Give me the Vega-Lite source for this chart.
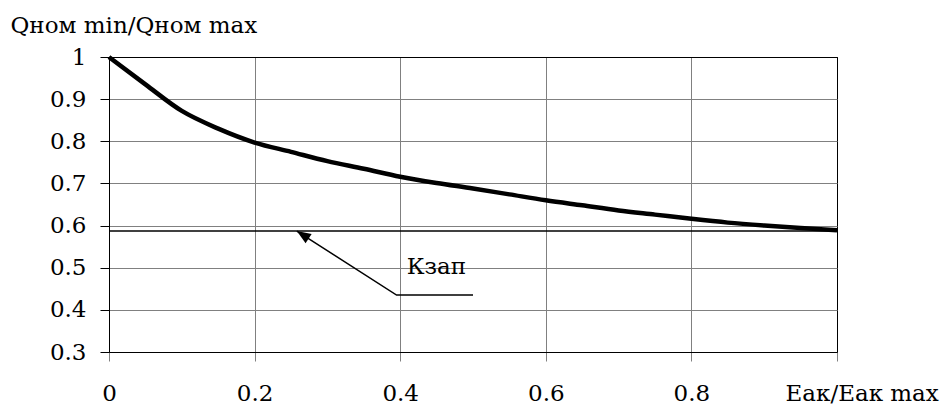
{
  "$schema": "https://vega.github.io/schema/vega-lite/v6.json",
  "width": 728,
  "height": 295,
  "autosize": {"type": "none"},
  "padding": {"left": 109, "top": 57, "right": 104, "bottom": 53},
  "background": "white",
  "config": {
    "view": {"stroke": "black", "strokeWidth": 1},
    "font": "DejaVu Serif"
  },
  "datasets": {
    "curve": [
      {"x": 0.0, "y": 1.0},
      {"x": 0.05, "y": 0.935},
      {"x": 0.1, "y": 0.872},
      {"x": 0.15, "y": 0.83},
      {"x": 0.2, "y": 0.797},
      {"x": 0.25, "y": 0.775},
      {"x": 0.3, "y": 0.753},
      {"x": 0.35, "y": 0.735},
      {"x": 0.4, "y": 0.716},
      {"x": 0.45, "y": 0.701},
      {"x": 0.5, "y": 0.688},
      {"x": 0.55, "y": 0.674},
      {"x": 0.6, "y": 0.660},
      {"x": 0.65, "y": 0.648},
      {"x": 0.7, "y": 0.636},
      {"x": 0.75, "y": 0.626},
      {"x": 0.8, "y": 0.616},
      {"x": 0.85, "y": 0.607},
      {"x": 0.9, "y": 0.600},
      {"x": 0.95, "y": 0.594},
      {"x": 1.0, "y": 0.589}
    ],
    "kzap": [
      {"x": 0.0, "y": 0.587},
      {"x": 1.0, "y": 0.587}
    ],
    "arrow": [
      {"x": 0.258, "y": 0.587},
      {"x": 0.395, "y": 0.435},
      {"x": 0.5, "y": 0.435}
    ],
    "head": [
      {"x": 0.258, "y": 0.587}
    ],
    "label": [
      {"x": 0.409, "y": 0.485, "text": "Кзап"}
    ]
  },
  "encoding": {
    "x": {
      "field": "x",
      "type": "quantitative",
      "scale": {"domain": [0, 1], "nice": false, "zero": false},
      "axis": {
        "values": [0, 0.2, 0.4, 0.6, 0.8, 1],
        "grid": true,
        "gridColor": {"condition": {"test": "datum.value == 1", "value": "black"}, "value": "#808080"},
        "gridOpacity": 1,
        "gridWidth": 1,
        "domainColor": "black",
        "domainWidth": 1,
        "tickSize": 9,
        "tickColor": "#808080",
        "tickWidth": 1,
        "labelFont": "DejaVu Serif",
        "labelFontSize": 23,
        "labelColor": "black",
        "labelBaseline": "alphabetic",
        "labelPadding": 39,
        "labelFlush": false,
        "labelOverlap": false,
        "labelExpr": "datum.value == 1 ? '' : format(datum.value, '~g')",
        "title": "Еак/Еак max",
        "titleFont": "DejaVu Serif",
        "titleFontSize": 23,
        "titleFontWeight": "normal",
        "titleColor": "black",
        "titleAlign": "left",
        "titleAnchor": "start",
        "titleBaseline": "alphabetic",
        "titleX": 676,
        "titleY": 48
      }
    },
    "y": {
      "field": "y",
      "type": "quantitative",
      "scale": {"domain": [0.3, 1], "nice": false, "zero": false},
      "axis": {
        "values": [0.3, 0.4, 0.5, 0.6, 0.7, 0.8, 0.9, 1],
        "grid": true,
        "gridColor": {"condition": {"test": "datum.value == 1 || datum.value == 0.3", "value": "black"}, "value": "#808080"},
        "gridOpacity": 1,
        "gridWidth": 1,
        "domainColor": "black",
        "domainWidth": 1,
        "tickSize": 9,
        "tickColor": "black",
        "tickWidth": 1,
        "labelFont": "DejaVu Serif",
        "labelFontSize": 23,
        "labelColor": "black",
        "labelBaseline": "middle",
        "labelPadding": 14,
        "labelFlush": false,
        "labelOverlap": false,
        "labelExpr": "format(datum.value, '~g')",
        "title": "Qном min/Qном max",
        "titleFont": "DejaVu Serif",
        "titleFontSize": 23,
        "titleFontWeight": "normal",
        "titleColor": "black",
        "titleAngle": 0,
        "titleAlign": "left",
        "titleAnchor": "start",
        "titleBaseline": "alphabetic",
        "titleX": -99,
        "titleY": -25
      }
    }
  },
  "layer": [
    {
      "data": {"name": "kzap"},
      "mark": {"type": "line", "color": "black", "strokeWidth": 1.6}
    },
    {
      "data": {"name": "curve"},
      "mark": {"type": "line", "color": "black", "strokeWidth": 4.5, "interpolate": "monotone"}
    },
    {
      "data": {"name": "arrow"},
      "mark": {"type": "line", "color": "black", "strokeWidth": 1.5}
    },
    {
      "data": {"name": "head"},
      "mark": {
        "type": "point",
        "shape": "M0,0L0.4,1L-0.4,1Z",
        "filled": true,
        "color": "black",
        "opacity": 1,
        "size": 784,
        "angle": 302.6
      }
    },
    {
      "data": {"name": "label"},
      "mark": {
        "type": "text",
        "font": "DejaVu Serif",
        "fontSize": 23,
        "color": "black",
        "align": "left",
        "baseline": "alphabetic"
      },
      "encoding": {"text": {"field": "text"}}
    }
  ]
}
